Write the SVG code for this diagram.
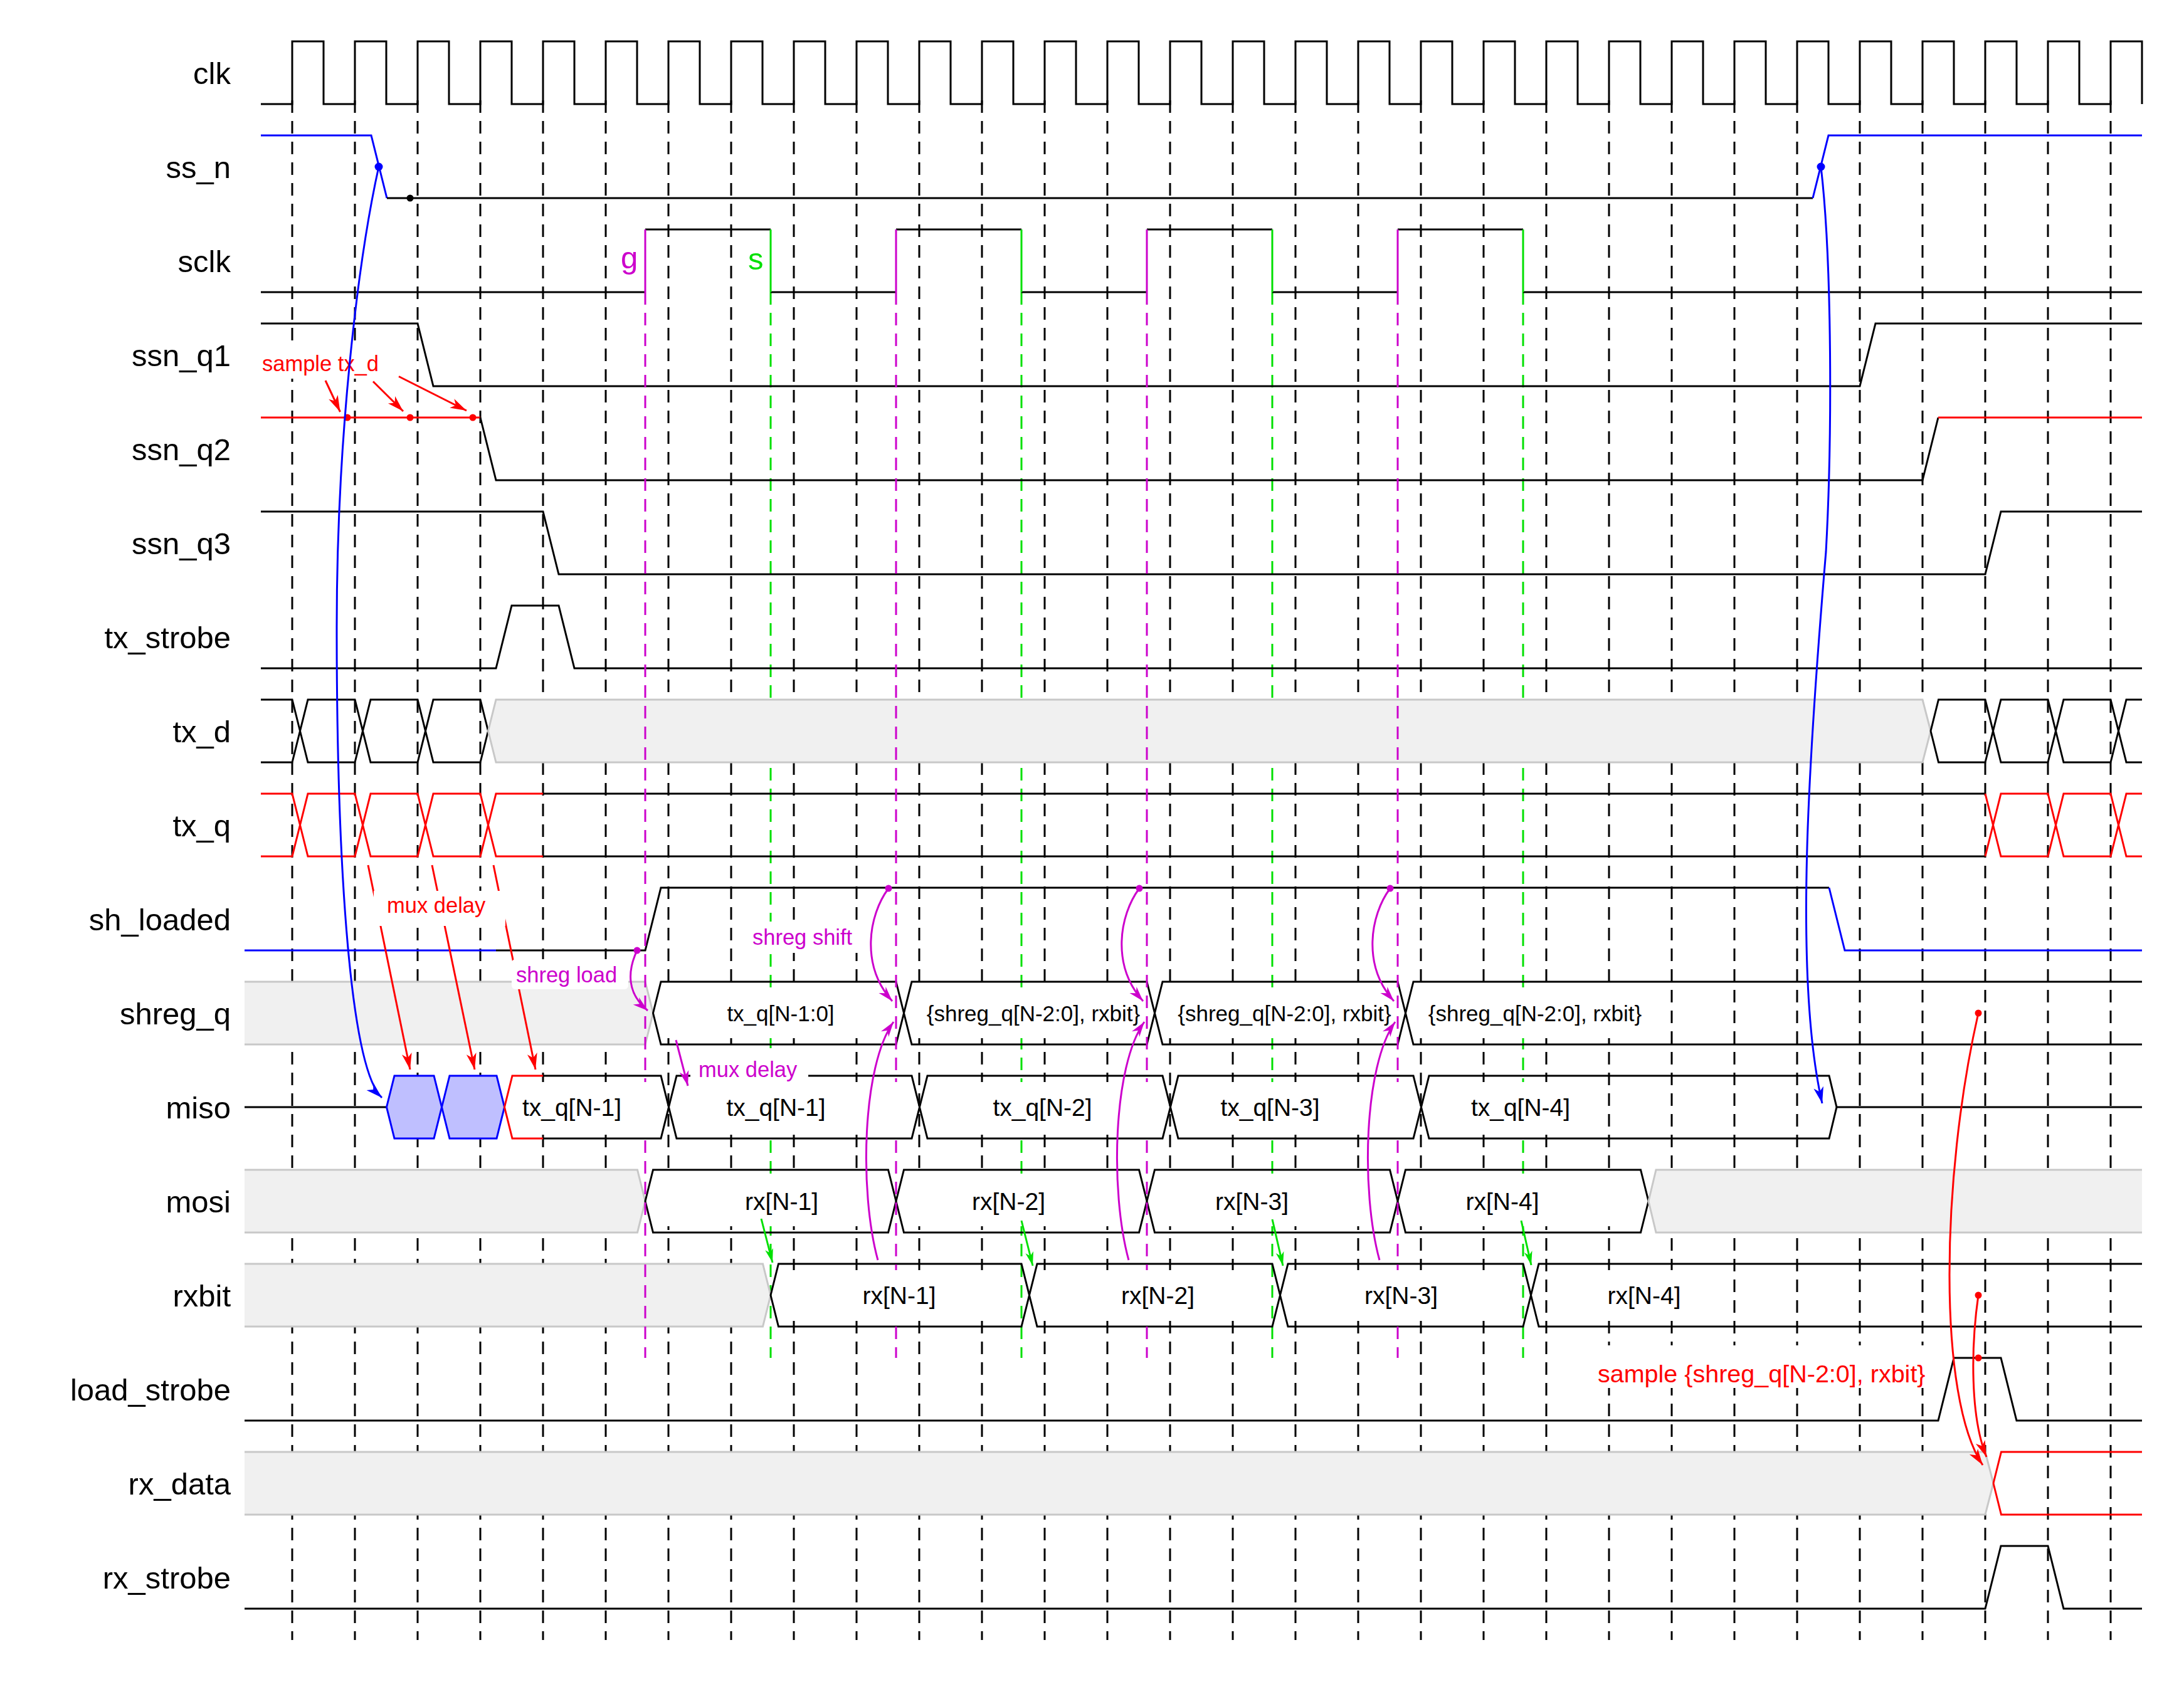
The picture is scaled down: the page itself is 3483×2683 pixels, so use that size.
<svg xmlns="http://www.w3.org/2000/svg" width="3483" height="2683" viewBox="0 0 3483 2683">
<style>
.s{fill:none;stroke:#000;stroke-width:3}
.r{fill:none;stroke:#f00;stroke-width:3}
.b{fill:none;stroke:#00f;stroke-width:3}
.m{fill:none;stroke:#c0c;stroke-width:3}
.g{fill:none;stroke:#00e000;stroke-width:3}
.gd{fill:#f0f0f0;stroke:#c8c8c8;stroke-width:3}
.hx{fill:#bfbfff;stroke:#00f;stroke-width:3}
.dash{fill:none;stroke:#000;stroke-width:3;stroke-dasharray:20 13}
.dm{fill:none;stroke:#c0c;stroke-width:3;stroke-dasharray:20 13}
.dg{fill:none;stroke:#00e000;stroke-width:3;stroke-dasharray:20 13}
.bg{fill:#fff}
text{font-family:"Liberation Sans",Arial,Helvetica,sans-serif}
.lbl{font-size:49px;text-anchor:end;fill:#000}
.dl{font-size:39px;text-anchor:middle;fill:#000}
.sl{font-size:35px;text-anchor:middle;fill:#000}
.an{font-size:34.5px}
.tr{fill:#f00}.tm{fill:#c0c}.tg{fill:#00e000}
</style>
<defs>
<marker id="ar" markerUnits="userSpaceOnUse" orient="auto" viewBox="-30 -10 32 20" markerWidth="32" markerHeight="20" refX="0" refY="0"><path d="M0,0 L-26,-8 L-19,0 L-26,8 Z" fill="#f00"/></marker>
<marker id="ab" markerUnits="userSpaceOnUse" orient="auto" viewBox="-30 -10 32 20" markerWidth="32" markerHeight="20" refX="0" refY="0"><path d="M0,0 L-26,-8 L-19,0 L-26,8 Z" fill="#00f"/></marker>
<marker id="am" markerUnits="userSpaceOnUse" orient="auto" viewBox="-30 -10 32 20" markerWidth="32" markerHeight="20" refX="0" refY="0"><path d="M0,0 L-24,-7.5 L-17,0 L-24,7.5 Z" fill="#c0c"/></marker>
<marker id="ag" markerUnits="userSpaceOnUse" orient="auto" viewBox="-30 -10 32 20" markerWidth="32" markerHeight="20" refX="0" refY="0"><path d="M0,0 L-22,-6.5 L-16,0 L-22,6.5 Z" fill="#00e000"/></marker>
</defs>
<rect width="3483" height="2683" fill="#fff"/>

<g id="guides">
<path class="dash" d="M466,160V2616M566,160V2616M666,160V2616M766,160V2616M866,160V2616M966,160V2616M1066,160V2616M1166,160V2616M1266,160V2616M1366,160V2616M1466,160V2616M1566,160V2616M1666,160V2616M1766,160V2616M1866,160V2616M1966,160V2616M2066,160V2616M2166,160V2616M2266,160V2616M2366,160V2616M2466,160V2616M2566,160V2616M2666,160V2616M2766,160V2616M2866,160V2616M2966,160V2616M3066,160V2616M3166,160V2616M3266,160V2616M3366,160V2616"/>
<path class="dg" d="M1229,466V2166M1629,466V2166M2029,466V2166M2429,466V2166"/>
</g>

<g id="labels">
<text class="lbl" x="368" y="134">clk</text>
<text class="lbl" x="368" y="284">ss_n</text>
<text class="lbl" x="368" y="434">sclk</text>
<text class="lbl" x="368" y="584">ssn_q1</text>
<text class="lbl" x="368" y="734">ssn_q2</text>
<text class="lbl" x="368" y="884">ssn_q3</text>
<text class="lbl" x="368" y="1034">tx_strobe</text>
<text class="lbl" x="368" y="1184">tx_d</text>
<text class="lbl" x="368" y="1334">tx_q</text>
<text class="lbl" x="368" y="1484">sh_loaded</text>
<text class="lbl" x="368" y="1634">shreg_q</text>
<text class="lbl" x="368" y="1784">miso</text>
<text class="lbl" x="368" y="1934">mosi</text>
<text class="lbl" x="368" y="2084">rxbit</text>
<text class="lbl" x="368" y="2234">load_strobe</text>
<text class="lbl" x="368" y="2384">rx_data</text>
<text class="lbl" x="368" y="2534">rx_strobe</text>
</g>

<g id="sig-clk">
<path class="s" d="M416,166 H466V66H516V166 H566V66H616V166 H666V66H716V166 H766V66H816V166 H866V66H916V166 H966V66H1016V166 H1066V66H1116V166 H1166V66H1216V166 H1266V66H1316V166 H1366V66H1416V166 H1466V66H1516V166 H1566V66H1616V166 H1666V66H1716V166 H1766V66H1816V166 H1866V66H1916V166 H1966V66H2016V166 H2066V66H2116V166 H2166V66H2216V166 H2266V66H2316V166 H2366V66H2416V166 H2466V66H2516V166 H2566V66H2616V166 H2666V66H2716V166 H2766V66H2816V166 H2866V66H2916V166 H2966V66H3016V166 H3066V66H3116V166 H3166V66H3216V166 H3266V66H3316V166 H3366V66H3416V166"/>
</g>
<g id="sig-ss_n">
<path class="b" d="M416,216 H592 L617,316"/>
<path class="s" d="M617,316 H2891"/>
<path class="b" d="M2891,316 L2916,216 H3416"/>
<circle cx="654" cy="316" r="5.5" fill="#000"/>
</g>
<g id="sig-sclk">
<path class="s" d="M416,466 H1029 M1029,366 H1229 M1229,466 H1429 M1429,366 H1629 M1629,466 H1829 M1829,366 H2029 M2029,466 H2229 M2229,366 H2429 M2429,466 H3416"/>
<path class="m" d="M1029,466V366 M1429,466V366 M1829,466V366 M2229,466V366"/>
<path class="g" d="M1229,366V466 M1629,366V466 M2029,366V466 M2429,366V466"/>
<text class="tm" x="990" y="428" font-size="49">g</text>
<text class="tg" x="1193" y="430" font-size="49">s</text>
</g>
<g id="sig-ssn_q1">
<path class="s" d="M416,516 H666 L691,616 H2966 L2991,516 H3416"/>
</g>
<g id="sig-ssn_q2">
<path class="r" d="M416,666 H766"/>
<path class="s" d="M766,666 L791,766 H3066 L3091,666"/>
<path class="r" d="M3091,666 H3416"/>
</g>
<g id="sig-ssn_q3">
<path class="s" d="M416,816 H866 L891,916 H3166 L3191,816 H3416"/>
</g>
<g id="sig-tx_strobe">
<path class="s" d="M416,1066 H791 L816,966 H891 L916,1066 H3416"/>
</g>
<g id="sig-tx_d">
<path class="s" d="M416,1116 H466 L491,1216 H566 L591,1116 H666 L691,1216 H766 L778.5,1166 M416,1216 H466 L491,1116 H566 L591,1216 H666 L691,1116 H766 L778.5,1166"/>
<path class="gd" d="M791,1116 H3066 L3079,1166 L3066,1216 H791 L778.5,1166 Z"/>
<path class="s" d="M3079,1166 L3091.5,1116 H3166 L3191,1216 H3266 L3291,1116 H3366 L3391,1216 H3416 M3079,1166 L3091.5,1216 H3166 L3191,1116 H3266 L3291,1216 H3366 L3391,1116 H3416"/>
</g>
<g id="sig-tx_q">
<path class="r" d="M416,1266 H466 L491,1366 H566 L591,1266 H666 L691,1366 H766 L791,1266 H866 M416,1366 H466 L491,1266 H566 L591,1366 H666 L691,1266 H766 L791,1366 H866"/>
<path class="s" d="M866,1266 H3166 M866,1366 H3166"/>
<path class="r" d="M3166,1266 L3191,1366 H3266 L3291,1266 H3366 L3391,1366 H3416 M3166,1366 L3191,1266 H3266 L3291,1366 H3366 L3391,1266 H3416"/>
</g>
<g id="sig-sh_loaded">
<path class="b" d="M390,1516 H791"/>
<path class="s" d="M791,1516 H1029 L1054,1416 H2917"/>
<path class="b" d="M2917,1416 L2942,1516 H3416"/>
</g>
<g id="sig-shreg_q">
<path class="gd" d="M390,1566 H1029 L1041.5,1616 L1029,1666 H390"/>
<path class="s" d="M1041.5,1616 L1054,1566 H1429 L1441.5,1616 L1429,1666 H1054 Z M1441.5,1616 L1454,1566 H1829 L1841.5,1616 L1829,1666 H1454 Z M1841.5,1616 L1854,1566 H2229 L2241.5,1616 L2229,1666 H1854 Z M2241.5,1616 L2254,1566 H3416 M2241.5,1616 L2254,1666 H3416"/>
</g>
<g id="sig-miso">
<path class="s" d="M390,1766 H616.5 M2929,1766 H3416"/>
<path class="hx" d="M616.5,1766 L629,1716 H692 L704.5,1766 L692,1816 H629 Z"/>
<path class="hx" d="M704.5,1766 L717,1716 H792 L804.5,1766 L792,1816 H717 Z"/>
<path class="r" d="M804.5,1766 L817,1716 H866 M804.5,1766 L817,1816 H866"/>
<path class="s" d="M866,1716 H1054 L1066.5,1766 L1054,1816 H866 M1066.5,1766 L1079,1716 H1454 L1466.5,1766 L1454,1816 H1079 Z M1466.5,1766 L1479,1716 H1854 L1866.5,1766 L1854,1816 H1479 Z M1866.5,1766 L1879,1716 H2254 L2266.5,1766 L2254,1816 H1879 Z M2266.5,1766 L2279,1716 H2917 L2929,1766 L2917,1816 H2279 Z"/>
</g>
<g id="sig-mosi">
<path class="gd" d="M390,1866 H1016.5 L1029,1916 L1016.5,1966 H390"/>
<path class="s" d="M1029,1916 L1041.5,1866 H1416.5 L1429,1916 L1416.5,1966 H1041.5 Z M1429,1916 L1441.5,1866 H1816.5 L1829,1916 L1816.5,1966 H1441.5 Z M1829,1916 L1841.5,1866 H2216.5 L2229,1916 L2216.5,1966 H1841.5 Z M2229,1916 L2241.5,1866 H2616.5 L2629,1916 L2616.5,1966 H2241.5 Z"/>
<path class="gd" d="M3416,1866 H2641 L2629,1916 L2641,1966 H3416"/>
</g>
<g id="sig-rxbit">
<path class="gd" d="M390,2016 H1216.5 L1229,2066 L1216.5,2116 H390"/>
<path class="s" d="M1229,2066 L1241.5,2016 H1629 L1641.5,2066 L1629,2116 H1241.5 Z M1641.5,2066 L1654,2016 H2029 L2041.5,2066 L2029,2116 H1654 Z M2041.5,2066 L2054,2016 H2429 L2441.5,2066 L2429,2116 H2054 Z M2441.5,2066 L2454,2016 H3416 M2441.5,2066 L2454,2116 H3416"/>
</g>
<g id="sig-load_strobe">
<path class="s" d="M390,2266 H3091 L3116,2166 H3191 L3216,2266 H3416"/>
</g>
<g id="sig-rx_data">
<path class="gd" d="M390,2316 H3166 L3179,2366 L3166,2416 H390"/>
<path class="r" d="M3179,2366 L3191.5,2316 H3416 M3179,2366 L3191.5,2416 H3416"/>
</g>
<g id="sig-rx_strobe">
<path class="s" d="M390,2566 H3166 L3191,2466 H3266 L3291,2566 H3416"/>
</g>

<g id="sclk-guides">
<path class="dm" d="M1029,466V2166M1429,466V2166M1829,466V2166M2229,466V2166"/>
</g>

<g id="data-labels">
<rect class="bg" x="1056" y="1576" width="371" height="80"/>
<rect class="bg" x="1456" y="1576" width="371" height="80"/>
<rect class="bg" x="1856" y="1576" width="371" height="80"/>
<rect class="bg" x="2259" y="1576" width="381" height="80"/>
<text class="sl" x="1245" y="1628.5">tx_q[N-1:0]</text>
<text class="sl" x="1648" y="1628.5">{shreg_q[N-2:0], rxbit}</text>
<text class="sl" x="2048.5" y="1628.5">{shreg_q[N-2:0], rxbit}</text>
<text class="sl" x="2448" y="1628.5">{shreg_q[N-2:0], rxbit}</text>
<rect class="bg" x="819" y="1726" width="233" height="80"/>
<rect class="bg" x="1081" y="1726" width="371" height="80"/>
<rect class="bg" x="1481" y="1726" width="371" height="80"/>
<rect class="bg" x="1881" y="1726" width="371" height="80"/>
<rect class="bg" x="2305" y="1726" width="240" height="80"/>
<text class="dl" x="912" y="1780">tx_q[N-1]</text>
<text class="dl" x="1237.5" y="1780">tx_q[N-1]</text>
<text class="dl" x="1662.5" y="1780">tx_q[N-2]</text>
<text class="dl" x="2025.5" y="1780">tx_q[N-3]</text>
<text class="dl" x="2425" y="1780">tx_q[N-4]</text>
<rect class="bg" x="1043" y="1876" width="372" height="80"/>
<rect class="bg" x="1443" y="1876" width="372" height="80"/>
<rect class="bg" x="1843" y="1876" width="372" height="80"/>
<rect class="bg" x="2243" y="1876" width="372" height="80"/>
<text class="dl" x="1246.5" y="1930">rx[N-1]</text>
<text class="dl" x="1608.5" y="1930">rx[N-2]</text>
<text class="dl" x="1996.5" y="1930">rx[N-3]</text>
<text class="dl" x="2396" y="1930">rx[N-4]</text>
<rect class="bg" x="1243" y="2026" width="384" height="80"/>
<rect class="bg" x="1656" y="2026" width="371" height="80"/>
<rect class="bg" x="2056" y="2026" width="371" height="80"/>
<rect class="bg" x="2523" y="2026" width="198" height="80"/>
<text class="dl" x="1434" y="2080">rx[N-1]</text>
<text class="dl" x="1846.5" y="2080">rx[N-2]</text>
<text class="dl" x="2234.5" y="2080">rx[N-3]</text>
<text class="dl" x="2622" y="2080">rx[N-4]</text>
</g>

<g id="connectors">
<path class="r" d="M519,607 L542.5,657" marker-end="url(#ar)"/>
<path class="r" d="M595,608.5 L643,656" marker-end="url(#ar)"/>
<path class="r" d="M636,600.5 L744,655" marker-end="url(#ar)"/>
<path class="r" d="M587,1380 L654,1706" marker-end="url(#ar)"/>
<path class="r" d="M689,1380 L757,1706" marker-end="url(#ar)"/>
<path class="r" d="M787,1380 L854,1706" marker-end="url(#ar)"/>
<path class="m" d="M1016,1516 C1000,1550 1000,1585 1033,1612" marker-end="url(#am)"/>
<path class="m" d="M1078,1659 L1097,1732" marker-end="url(#am)"/>
<path class="m" d="M1417,1417 C1385,1460 1372,1540 1423,1597" marker-end="url(#am)"/>
<path class="m" d="M1817,1417 C1785,1460 1772,1540 1823,1597" marker-end="url(#am)"/>
<path class="m" d="M2217,1417 C2185,1460 2172,1540 2223,1597" marker-end="url(#am)"/>
<path class="m" d="M1400,2010 C1370,1900 1375,1700 1425,1630" marker-end="url(#am)"/>
<path class="m" d="M1800,2010 C1770,1900 1775,1700 1825,1630" marker-end="url(#am)"/>
<path class="m" d="M2200,2010 C2170,1900 2175,1700 2225,1630" marker-end="url(#am)"/>
<path class="g" d="M1214,1944 L1232,2014" marker-end="url(#ag)"/>
<path class="g" d="M1629,1947 L1647,2019" marker-end="url(#ag)"/>
<path class="g" d="M2029,1945 L2046,2019" marker-end="url(#ag)"/>
<path class="g" d="M2426,1947 L2442,2018" marker-end="url(#ag)"/>
<path class="r" d="M3155,1616 C3095,1880 3090,2230 3162,2337" marker-end="url(#ar)"/>
<path class="r" d="M3155,2066 C3143,2150 3142,2260 3168,2324" marker-end="url(#ar)"/>
<g fill="#f00">
<circle cx="554" cy="666" r="5.5"/><circle cx="654" cy="666" r="5.5"/><circle cx="754" cy="666" r="5.5"/>
<circle cx="3155" cy="1616" r="5.5"/><circle cx="3155" cy="2066" r="5.5"/><circle cx="3155" cy="2166" r="5.5"/>
</g>
<g fill="#c0c">
<circle cx="1016" cy="1516" r="5.5"/><circle cx="1417" cy="1417" r="5.5"/><circle cx="1817" cy="1417" r="5.5"/><circle cx="2217" cy="1417" r="5.5"/>
</g>
</g>

<g id="annotations">
<rect class="bg" x="412" y="552" width="200" height="52"/>
<text class="an tr" x="418" y="592">sample tx_d</text>
<rect class="bg" x="596" y="1421" width="210" height="56"/>
<text class="an tr" x="617" y="1456">mux delay</text>
<rect class="bg" x="816" y="1530" width="186" height="48" rx="6"/>
<text class="an tm" x="823" y="1567">shreg load</text>
<rect class="bg" x="1190" y="1470" width="182" height="50"/>
<text class="an tm" x="1200" y="1507">shreg shift</text>
<rect class="bg" x="1101" y="1672" width="188" height="60"/>
<text class="an tm" x="1114" y="1718">mux delay</text>
<rect class="bg" x="2538" y="2146" width="544" height="68"/>
<text class="tr" x="2548" y="2205" font-size="39.5">sample {shreg_q[N-2:0], rxbit}</text>
</g>

<g id="ss_n-links">
<path class="b" d="M604,266 C570,420 537,700 537,1000 C537,1400 560,1705 609,1751" marker-end="url(#ab)"/>
<path class="b" d="M2904,266 C2922,420 2922,700 2912,880 C2885,1200 2860,1560 2906,1760" marker-end="url(#ab)"/>
<circle cx="604" cy="266" r="6.5" fill="#00f"/>
<circle cx="2904" cy="266" r="6.5" fill="#00f"/>
</g>
</svg>
